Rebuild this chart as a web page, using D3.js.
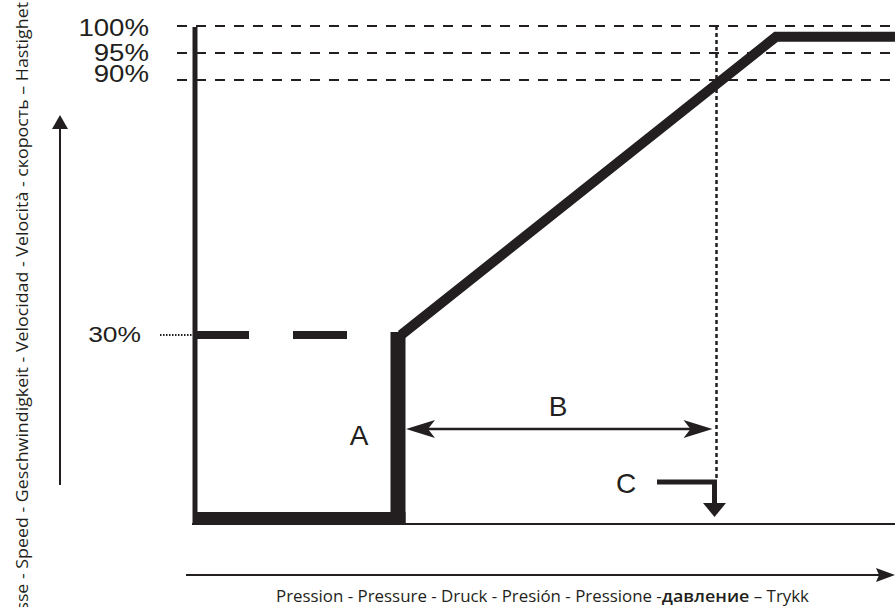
<!DOCTYPE html>
<html>
<head>
<meta charset="utf-8">
<script src="https://cdn.jsdelivr.net/npm/d3@7"></script>
<style>
  html, body { margin: 0; padding: 0; background: #fff; }
  svg { display: block; }
</style>
</head>
<body>
<svg id="chart" width="895" height="607"></svg>
<script>
// ---- data ----
const levelValues = [100, 95, 90];
const levelLabels = ["100%", "95%", "90%"];
const lowSpeed = 30;
const lowSpeedLabel = "30%";
const curvePressure = [29, 83, 100];
const curveSpeed = [30, 98, 98];
const jumpPressure = 29;
const setPressure = 74.5;
const pointLabels = ["A", "B", "C"];
const xAxisTitle = ["Pression - Pressure - Druck - Presión - Pressione -", "давление", " – Trykk"];
const yAxisTitle = "Vitesse - Speed - Geschwindigkeit - Velocidad - Velocità - скорость – Hastighet";

// ---- layout ----
const svg = d3.select("#chart");
const ink = "#231f20";
const x = d3.scaleLinear().domain([0, 100]).range([195, 895]);
const y = d3.scaleLinear().domain([0, 30, 90, 95, 100]).range([523, 335, 80, 53, 26]);

// dashed level lines
svg.selectAll("line.level").data(levelValues).join("line")
  .attr("class", "level")
  .attr("x1", x(0) - 18).attr("x2", x(100))
  .attr("y1", d => y(d)).attr("y2", d => y(d))
  .attr("stroke", ink).attr("stroke-width", 2)
  .attr("stroke-dasharray", "10,9");

const labelDy = [10, 8, 2];
svg.selectAll("text.level").data(levelValues).join("text")
  .attr("class", "level")
  .attr("transform", (d, i) => `translate(149,${y(d) + labelDy[i]}) scale(1.2,1)`)
  .attr("text-anchor", "end")
  .attr("font-family", "Liberation Sans, Arial, sans-serif")
  .attr("font-size", 23).attr("fill", ink)
  .text((d, i) => levelLabels[i]);

// 30% label, dotted lead and dashed low speed line
svg.append("text")
  .attr("transform", `translate(141,${y(lowSpeed) + 7}) scale(1.2,1)`)
  .attr("text-anchor", "end")
  .attr("font-family", "Liberation Sans, Arial, sans-serif")
  .attr("font-size", 22).attr("fill", ink)
  .text(lowSpeedLabel);
svg.append("line")
  .attr("x1", 160).attr("x2", x(0) - 2)
  .attr("y1", y(lowSpeed)).attr("y2", y(lowSpeed))
  .attr("stroke", ink).attr("stroke-width", 2)
  .attr("stroke-dasharray", "1.5,1.5");
svg.append("line")
  .attr("x1", x(0)).attr("x2", x(jumpPressure) - 8)
  .attr("y1", y(lowSpeed)).attr("y2", y(lowSpeed))
  .attr("stroke", ink).attr("stroke-width", 8)
  .attr("stroke-dasharray", "54,44");

// vertical dotted line at set pressure
svg.append("line")
  .attr("x1", x(setPressure)).attr("x2", x(setPressure))
  .attr("y1", y(100)).attr("y2", 480)
  .attr("stroke", ink).attr("stroke-width", 2.5)
  .attr("stroke-dasharray", "4,3");

// baseline
svg.append("line")
  .attr("x1", x(0) - 3).attr("x2", x(100))
  .attr("y1", y(0) + 1).attr("y2", y(0) + 1)
  .attr("stroke", ink).attr("stroke-width", 2);

// left vertical line
svg.append("line")
  .attr("x1", x(0)).attr("x2", x(0))
  .attr("y1", y(100) + 1).attr("y2", y(0) + 2)
  .attr("stroke", ink).attr("stroke-width", 5);

// thick bottom segment
svg.append("rect")
  .attr("x", x(0) - 2).attr("y", y(0) - 11)
  .attr("width", x(jumpPressure) + 7.5 - (x(0) - 2)).attr("height", 13)
  .attr("fill", ink);
// thick vertical jump
svg.append("rect")
  .attr("x", x(jumpPressure) - 7.5).attr("y", y(lowSpeed) - 3)
  .attr("width", 15).attr("height", y(0) + 2 - (y(lowSpeed) - 3))
  .attr("fill", ink);

// diagonal + plateau
const curve = d3.line().x((d, i) => x(d) + (i === 0 ? 3 : 0)).y((d, i) => y(curveSpeed[i]));
svg.append("path")
  .attr("d", curve(curvePressure))
  .attr("fill", "none").attr("stroke", ink)
  .attr("stroke-width", 10).attr("stroke-linejoin", "miter");

// B arrow (double)
const bY = 429;
const bL = x(jumpPressure) + 8, bR = x(setPressure) - 4;
svg.append("line")
  .attr("x1", bL + 10).attr("x2", bR - 10)
  .attr("y1", bY).attr("y2", bY)
  .attr("stroke", ink).attr("stroke-width", 2.5);
function barb(tipX, tipY, dir) {
  const L = 29, N = 22, H = 9;
  return `M${tipX},${tipY} L${tipX - dir * L},${tipY - H} L${tipX - dir * N},${tipY} L${tipX - dir * L},${tipY + H} Z`;
}
svg.append("path").attr("d", barb(bR, bY, 1)).attr("fill", ink);
svg.append("path").attr("d", barb(bL, bY, -1)).attr("fill", ink);

// C arrow
const cX = x(setPressure) - 2;
svg.append("path")
  .attr("d", `M657,482 L${cX},482 L${cX},505`)
  .attr("fill", "none").attr("stroke", ink).attr("stroke-width", 5)
  .attr("stroke-linejoin", "miter");
svg.append("path")
  .attr("d", `M${cX - 11.5},503 L${cX + 11.5},503 L${cX},517 Z`)
  .attr("fill", ink);

// point labels
const labelPos = [[359, 445], [558, 416], [626, 493]];
svg.selectAll("text.pt").data(pointLabels).join("text")
  .attr("class", "pt")
  .attr("x", (d, i) => labelPos[i][0]).attr("y", (d, i) => labelPos[i][1])
  .attr("text-anchor", "middle")
  .attr("font-family", "Liberation Sans, Arial, sans-serif")
  .attr("font-size", 28).attr("fill", ink)
  .text(d => d);

// speed arrow (left)
svg.append("line")
  .attr("x1", 60).attr("x2", 60).attr("y1", 485).attr("y2", 126)
  .attr("stroke", ink).attr("stroke-width", 2);
svg.append("path").attr("d", "M60,115 L68,129 L52,129 Z").attr("fill", ink);

// pressure arrow (bottom)
svg.append("line")
  .attr("x1", 186).attr("x2", 880).attr("y1", 575).attr("y2", 575)
  .attr("stroke", ink).attr("stroke-width", 2);
svg.append("path").attr("d", "M895,575 L876,568 L879,575 L876,582 Z").attr("fill", ink);

// axis titles
const xt = svg.append("text")
  .attr("x", 276).attr("y", 602)
  .attr("font-family", "Open Sans, Noto Sans, sans-serif")
  .attr("font-size", 16).attr("fill", ink)
  .attr("textLength", 533).attr("lengthAdjust", "spacingAndGlyphs");
xt.append("tspan").text(xAxisTitle[0]);
xt.append("tspan").attr("font-weight", 600).attr("font-size", 17).text(xAxisTitle[1]);
xt.append("tspan").text(xAxisTitle[2]);

svg.append("text")
  .attr("transform", "translate(28,2) rotate(-90)")
  .attr("text-anchor", "end")
  .attr("font-family", "Open Sans, Noto Sans, sans-serif")
  .attr("font-size", 17).attr("fill", ink)
  .attr("textLength", 640).attr("lengthAdjust", "spacingAndGlyphs")
  .text(yAxisTitle);
</script>
</body>
</html>
